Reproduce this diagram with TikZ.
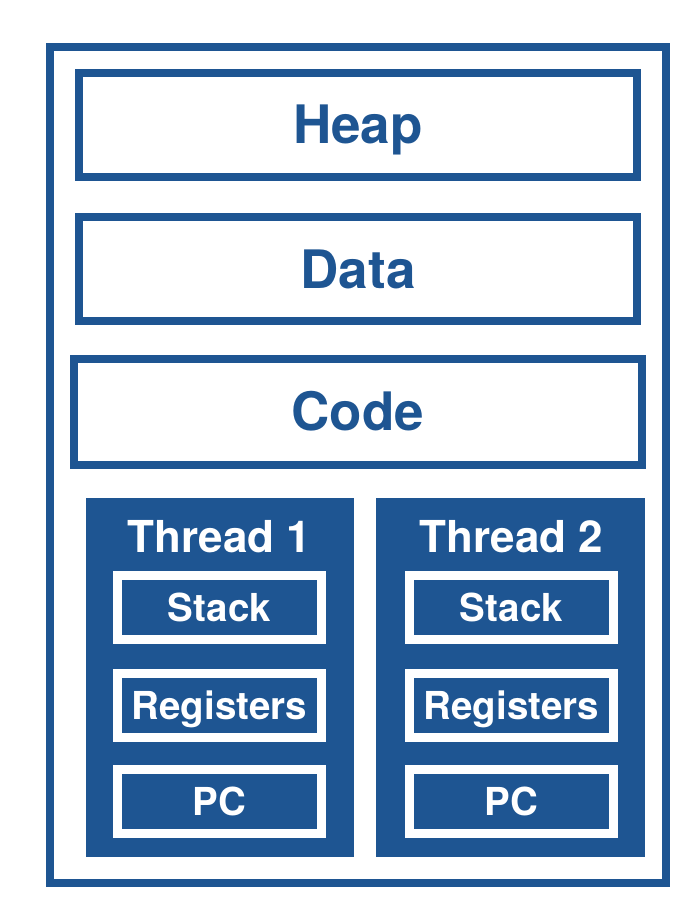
\documentclass[tikz,border=0pt]{standalone}
\usepackage{fontspec}
\setmainfont{TeX Gyre Heros}
\usetikzlibrary{positioning}
\definecolor{procblue}{RGB}{30,85,146}

\begin{document}
\begin{tikzpicture}[x=1pt, y=-1pt,
		segbox/.style={draw=procblue, line width=8pt, rectangle, inner sep=0pt,
			text=procblue, text height=38pt, text depth=0pt,
			font=\fontsize{53}{60}\selectfont\bfseries},
		threadbox/.style={fill=procblue, rectangle, inner sep=0pt,
			minimum width=268pt, minimum height=359pt},
		threadtitle/.style={text=white, anchor=base, inner sep=0pt,
			font=\fontsize{44}{50}\selectfont\bfseries},
		regbox/.style={draw=white, line width=9pt, fill=procblue, rectangle, inner sep=0pt,
			minimum width=204pt, minimum height=64pt,
			text=white, text height=28pt, text depth=0pt,
			font=\fontsize{38.5}{44}\selectfont\bfseries}]
	\useasboundingbox (0,0) rectangle (682,920);

	% process
	\node[segbox, minimum width=616.5pt, minimum height=836pt] (process) at (357.75,465) {};

	\node[segbox, minimum width=558pt, minimum height=104pt] (heap) at (358,125) {Heap};
	\node[segbox, minimum width=558pt, minimum height=104pt] (data) at (358,269) {Data};
	\node[segbox, minimum width=568.5pt, minimum height=105.5pt] (code) at (357.75,411.75) {Code};

	% threads
	\node[threadbox] (thread1) at (219.5,677.5) {};
	\node[threadbox, minimum width=269pt] (thread2) at (510.5,677.5) {};

	\node[threadtitle] (title1) at (219.5,552) {Thread 1};
	\node[threadtitle] (title2) at (511.5,552) {Thread 2};

	\node[regbox] (stack1) at (219.5,607.5) {Stack};
	\node[regbox] (regs1) at (219.5,705.5) {Registers};
	\node[regbox] (pc1) at (219.5,801.5) {PC};

	\node[regbox] (stack2) at (511.5,607.5) {Stack};
	\node[regbox] (regs2) at (511.5,705.5) {Registers};
	\node[regbox] (pc2) at (511.5,801.5) {PC};
\end{tikzpicture}
\end{document}
